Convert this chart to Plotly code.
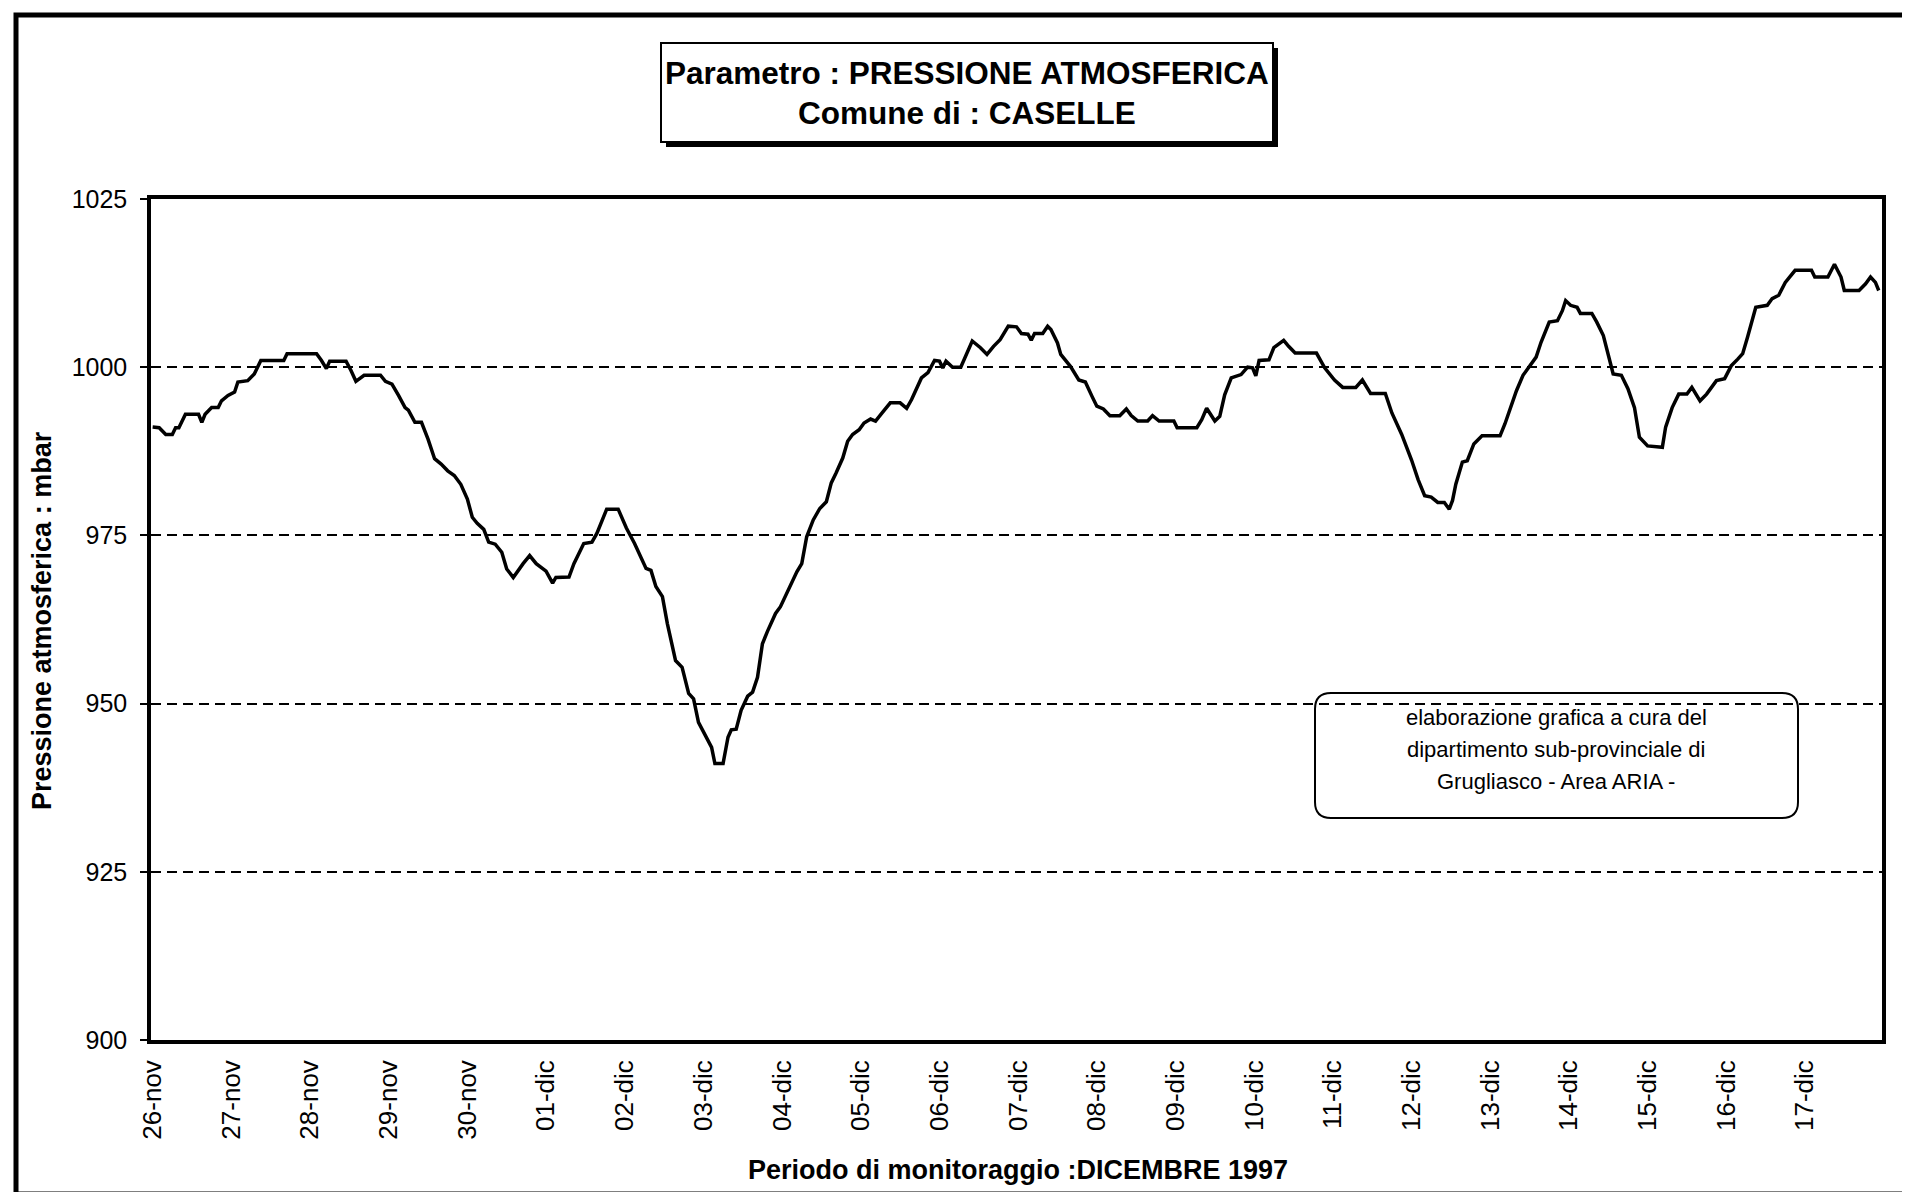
import plotly.graph_objects as go

# hours since 26-nov 00:00 and pressure (mbar)
hours = [0, 2, 4, 6, 7, 8, 10, 14, 15, 16, 18, 20, 21, 23, 25, 26, 29, 31, 33, 40,
         41, 50, 51.5, 53, 54, 59, 60.5, 62, 64.5, 69.5, 71, 73, 75, 77, 78, 80, 82, 84, 86, 88,
         90, 92, 94, 96, 97.5, 99, 101, 102.5, 104.5, 106.5, 108, 110, 113, 115, 117, 120, 122, 123, 127, 128.5,
         131.5, 134, 135.5, 138.5, 142, 144.5, 147, 150.5, 152, 153.5, 155.5, 157, 159.5, 161.5, 163.5, 165, 166.5, 169, 170.5, 171.5,
         174, 175.5, 176.5, 178, 179.5, 181.5, 183, 184.5, 186, 187.5, 190, 191.5, 194, 196.5, 198, 199.5, 201.5, 203.5, 205.5, 207,
         208.5, 210.5, 212, 213.5, 215.5, 217, 219, 220.5, 222.5, 225, 228, 230, 231.5, 234.5, 236.5, 238.5, 240, 241, 242, 244,
         246.5, 250, 252.5, 254.5, 256.5, 258.5, 261, 263.5, 265, 267, 268, 269, 271.5, 273, 274, 276, 277, 278.5, 280, 282.5,
         284.5, 286.5, 288, 290, 292, 295, 297, 298.5, 300.5, 303.5, 305, 307, 311.5, 312.5, 318.5, 320, 321.5, 324, 325.5, 327,
         329, 332, 334, 335.5, 336.5, 337.5, 340.5, 342, 345, 346.5, 348.5, 355, 357.5, 360.5, 363, 367, 369, 371.5, 376, 378,
         381, 384, 386, 388, 390, 392, 394, 395.5, 396.5, 397.5, 399.5, 401, 403, 405.5, 411, 412.5, 414, 416, 418, 420.5,
         422, 423.5, 426, 428.5, 430, 431, 432.5, 434.5, 435.5, 439, 440.5, 442.5, 444, 445.5, 448, 450, 452, 453.5, 456, 460.5,
         461.5, 463.5, 465.5, 468, 469.5, 472, 474, 477, 479.5, 481.5, 483.5, 485, 486.5, 489, 492.5, 494, 496, 498, 501, 506,
         507, 511, 513, 515, 516, 520.5, 522.5, 524, 525.5, 526.5]
pressure = [991.1, 991, 990, 990, 991, 991, 993, 993, 991.8, 993, 994, 994, 995, 995.8, 996.3, 997.8, 998, 999, 1001, 1001,
            1002, 1002, 1001, 999.8, 1000.9, 1000.9, 999.5, 997.9, 998.8, 998.8, 997.9, 997.5, 995.8, 994, 993.6, 991.8, 991.8, 989.3, 986.4, 985.6,
            984.6, 983.9, 982.6, 980.4, 977.7, 976.8, 975.9, 974, 973.7, 972.5, 970, 968.75, 970.8, 972, 970.8, 969.7, 967.9, 968.75, 968.8, 970.8,
            973.8, 974, 975.3, 978.9, 978.9, 976.1, 973.8, 970.1, 969.8, 967.4, 965.9, 961.9, 956.4, 955.4, 951.5, 950.7, 947.2, 945, 943.5, 941.1,
            941.1, 945, 946.1, 946.2, 949, 951.1, 951.7, 953.9, 958.9, 960.7, 963.4, 964.4, 966.9, 969.6, 970.8, 974.8, 977.3, 979, 980, 982.8,
            984.3, 986.5, 989, 990, 990.7, 991.7, 992.3, 992, 993.2, 994.7, 994.7, 993.9, 995.2, 998.4, 999.2, 1001, 1000.9, 999.9, 1000.9, 1000,
            1000, 1003.9, 1002.9, 1001.9, 1003.1, 1004.1, 1006.1, 1006, 1005, 1004.9, 1004, 1005, 1005, 1006.1, 1005.6, 1003.6, 1001.9, 1000.9, 1000.1, 998.1,
            997.8, 995.7, 994.2, 993.8, 992.8, 992.8, 993.8, 992.8, 992, 992, 992.8, 992, 992, 991, 991, 992.2, 993.9, 992, 992.7, 995.9,
            998.4, 998.9, 1000, 999.9, 998.7, 1001, 1001.1, 1002.9, 1004, 1003.1, 1002.1, 1002.1, 999.9, 998.1, 997, 997, 998.1, 996.1, 996.1, 993.2,
            990, 986.2, 983.3, 980.9, 980.7, 979.9, 979.9, 978.9, 980.2, 982.6, 985.9, 986.1, 988.6, 989.8, 989.8, 991.6, 993.8, 996.5, 998.8, 1000.5,
            1001.5, 1003.7, 1006.7, 1006.9, 1008.4, 1009.9, 1009.2, 1008.9, 1008, 1008, 1006.7, 1004.7, 1002, 999, 998.8, 996.8, 994, 989.6, 988.3, 988.1,
            991.1, 994, 996, 996, 997, 995, 996, 998, 998.3, 1000.2, 1001.2, 1002, 1004.5, 1008.9, 1009.2, 1010.2, 1010.7, 1012.6, 1014.4, 1014.4,
            1013.4, 1013.4, 1015.3, 1013.4, 1011.4, 1011.4, 1012.4, 1013.4, 1012.6, 1011.4]

day_labels = ["26-nov", "27-nov", "28-nov", "29-nov", "30-nov", "01-dic", "02-dic", "03-dic",
              "04-dic", "05-dic", "06-dic", "07-dic", "08-dic", "09-dic", "10-dic", "11-dic",
              "12-dic", "13-dic", "14-dic", "15-dic", "16-dic", "17-dic"]
day_hours = [24 * i for i in range(len(day_labels))]
y_ticks = [900, 925, 950, 975, 1000, 1025]

title_lines = ["Parametro : PRESSIONE ATMOSFERICA", "Comune di : CASELLE"]
note_lines = ["elaborazione grafica a cura del", "dipartimento sub-provinciale di", "Grugliasco - Area ARIA -"]

FONT = "Liberation Sans, Arial, sans-serif"

# plot area in pixels
L, R, T, B = 143, 1874, 191, 1032
W, H = R - L, B - T


def px(x):
    return (x - L) / W


def py(y):
    return (B - y) / H


fig = go.Figure()
fig.add_trace(go.Scatter(x=hours, y=pressure, mode="lines",
                         line=dict(color="black", width=3.5), showlegend=False))

fig.update_layout(
    width=1910, height=1192, autosize=False,
    margin=dict(l=L, r=1910 - R, t=T, b=1192 - B),
    paper_bgcolor="white", plot_bgcolor="white",
    font=dict(family=FONT, color="black"),
    xaxis=dict(range=[-0.5, 527.5], tickvals=day_hours, ticktext=day_labels,
               tickangle=-90, tickfont=dict(size=26), showgrid=False, zeroline=False,
               showline=True, linecolor="black", linewidth=3.5, mirror=True,
               ticks="", ticklabelstandoff=6),
    yaxis=dict(range=[900, 1025], tickvals=y_ticks, tickfont=dict(size=25),
               showgrid=True, gridcolor="black", gridwidth=1.5, griddash="10px,6px",
               zeroline=False, showline=True, linecolor="black", linewidth=3.5, mirror=True,
               ticks="outside", ticklen=7, tickwidth=2, tickcolor="black", ticklabelstandoff=8),
)

# axis titles
fig.add_annotation(x=px(34), y=py(613), xref="paper", yref="paper", showarrow=False,
                   text="Pressione atmosferica : mbar", textangle=-90,
                   font=dict(size=27, weight="bold"), xanchor="center", yanchor="middle")
fig.add_annotation(x=px(1010), y=py(1162), xref="paper", yref="paper", showarrow=False,
                   text="Periodo di monitoraggio :DICEMBRE 1997",
                   font=dict(size=27, weight="bold"), xanchor="center", yanchor="middle")

# title box with shadow
fig.add_shape(type="rect", xref="paper", yref="paper", x0=px(658), x1=px(1270), y0=py(40), y1=py(139),
              fillcolor="black", line=dict(width=0))
fig.add_shape(type="rect", xref="paper", yref="paper", x0=px(653), x1=px(1265), y0=py(35), y1=py(134),
              fillcolor="white", line=dict(color="black", width=2))
for i, t in enumerate(title_lines):
    fig.add_annotation(x=px(959), y=py(65 + 40 * i), xref="paper", yref="paper", showarrow=False,
                       text=t, font=dict(size=31.5, weight="bold"), xanchor="center", yanchor="middle")

# rounded note box
x0, x1, y0, y1, r = 1307, 1790, 685, 810, 16
path = (f"M {px(x0 + r)},{py(y0)} L {px(x1 - r)},{py(y0)} Q {px(x1)},{py(y0)} {px(x1)},{py(y0 + r)} "
        f"L {px(x1)},{py(y1 - r)} Q {px(x1)},{py(y1)} {px(x1 - r)},{py(y1)} "
        f"L {px(x0 + r)},{py(y1)} Q {px(x0)},{py(y1)} {px(x0)},{py(y1 - r)} "
        f"L {px(x0)},{py(y0 + r)} Q {px(x0)},{py(y0)} {px(x0 + r)},{py(y0)} Z")
fig.add_shape(type="path", xref="paper", yref="paper", path=path, line=dict(color="black", width=2))
for i, t in enumerate(note_lines):
    fig.add_annotation(x=px(1548), y=py(709 + 32 * i), xref="paper", yref="paper", showarrow=False,
                       text=t, font=dict(size=22), xanchor="center", yanchor="middle")

# outer frame
fig.add_shape(type="rect", xref="paper", yref="paper", x0=px(8), x1=px(1904), y0=py(7), y1=py(1186),
              line=dict(color="black", width=5))

fig.write_html("out.html")
